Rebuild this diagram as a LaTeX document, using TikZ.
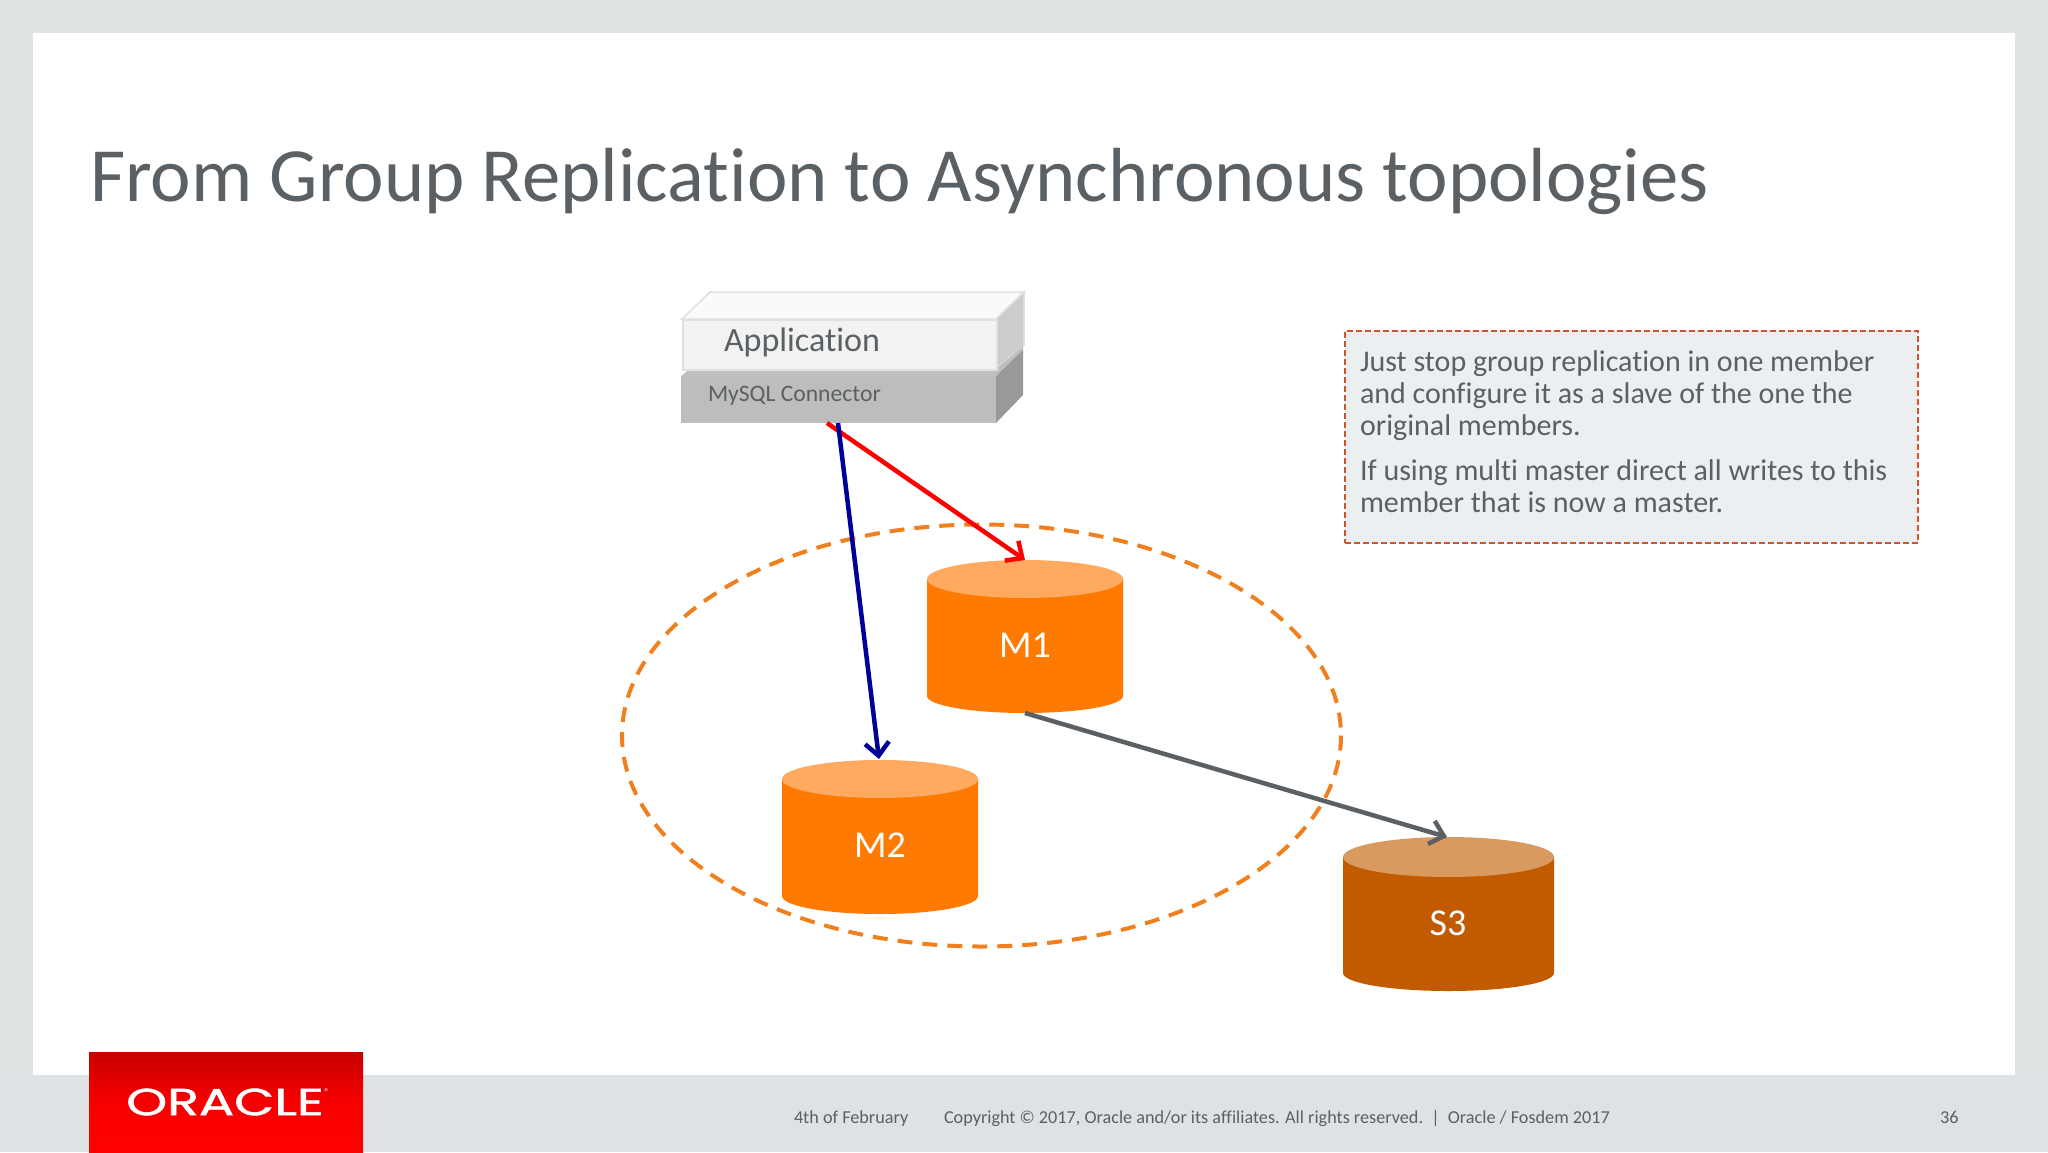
\documentclass[tikz,border=0pt]{standalone}
\usepackage{fontspec}
\setmainfont[Ligatures=NoCommon]{Carlito}
\newfontfamily\logofont[FakeBold=1.2]{Poppins}
\usetikzlibrary{arrows.meta}
\definecolor{slidebg}{HTML}{DFE4E3}
\definecolor{footbg}{HTML}{DEE2E5}
\definecolor{txt}{HTML}{5A6063}
\definecolor{dashor}{HTML}{F0801E}
\definecolor{orbody}{HTML}{FF7A00}
\definecolor{ortop}{HTML}{FFAA5F}
\definecolor{srbody}{HTML}{C25B00}
\definecolor{srtop}{HTML}{D99A60}
\definecolor{notefill}{HTML}{ECEFF1}
\definecolor{noteedge}{HTML}{D0562A}
\newcommand{\fsz}[1]{\fontsize{#1}{#1}\selectfont}
% left, right, mid y of top, side end y, bottom y, body colour
\newcommand{\cylbody}[6]{%
  \fill[#6] (#1,#3) -- (#1,#4) arc[start angle=180,end angle=0,x radius={(#2-#1)/2},y radius={#5-#4}] -- (#2,#3) -- cycle;
}
\tikzset{
  lbl/.style={text=txt,inner sep=0pt,outer sep=0pt},
  cylname/.style={text=white,inner sep=0pt,font=\fsz{38}},
  flow/.style={line width=4.5pt,-{Straight Barb[length=13pt,width=24pt,line width=4.5pt]},line join=miter},
  foot/.style={lbl,anchor=base west,font=\fsz{18.2}},
  noteline/.style={lbl,anchor=north west,align=left,font=\fsz{30}}
}
\begin{document}
\begin{tikzpicture}[x=1pt,y=-1pt]
\useasboundingbox (0,0) rectangle (2048,1152);
% slide
\fill[slidebg] (0,0) rectangle (2048,1152);
\fill[white] (33,33) rectangle (2015,1075);
\fill[footbg] (0,1075) rectangle (2048,1152);
\node[lbl,anchor=base west,font=\fsz{76.7}] (title) at (90,201) {From Group Replication to Asynchronous topologies};
% logo
\shade[top color=red!78!black,bottom color=red,middle color=red!97!black] (89,1052) rectangle (363,1152);
\node[inner sep=0pt,text=white,font=\logofont\fsz{36}] (logo) at (225,1102) {\scalebox{1.45}[1.05]{ORACLE}};
\node[inner sep=0pt,text=white,font=\fsz{10}] (logoreg) at (327,1092) {®};
% application stack
\fill[draw=black!12,fill=black!2,line width=1.5pt] (682,319) -- (710,292) -- (1024,292) -- (996,319) -- cycle;
\fill[draw=black!12,fill=black!20,line width=1.5pt] (996,319) -- (1024,292) -- (1024,345) -- (996,369) -- cycle;
\fill[black!25] (681,376) -- (690,369) -- (996,369) -- (1023,346) -- (1023,350) -- (996,376) -- cycle;
\fill[black!26] (681,376) rectangle (996,423);
\fill[black!40] (996,376) -- (1023,350) -- (1023,395) -- (996,423) -- cycle;
\node[draw=black!12,fill=black!5,line width=1.5pt,anchor=north west,minimum width=314pt,minimum height=50pt,inner sep=0pt] (app) at (682,319) {};
\node[lbl,font=\fsz{34},anchor=base west] (apptext) at (724,351) {Application};
\node[lbl,font=\fsz{23.6},anchor=base west] (conntext) at (708,401) {MySQL Connector};
\coordinate (connb) at (838,423);
\coordinate (connbr) at (827,423);
% group ellipse
\draw[dashor,line width=4pt,dash pattern=on 15pt off 10pt] (981.5,735.5) ellipse [x radius=359.5,y radius=211];
% cylinders
\cylbody{927}{1123}{579}{696}{713}{orbody}
\fill[ortop] (1025,579) ellipse [x radius=98,y radius=19];
\cylbody{782}{978}{779}{896}{914}{orbody}
\fill[ortop] (880,779) ellipse [x radius=98,y radius=19];
\cylbody{1343}{1554}{857}{973}{991}{srbody}
\fill[srtop] (1448.5,857) ellipse [x radius=105.5,y radius=20];
\node[cylname] (m1) at (1025,645) {M1};
\node[cylname] (m2) at (880,845) {M2};
\node[cylname] (s3) at (1448,923) {S3};
\coordinate (m1top) at (1025,560);
\coordinate (m1bot) at (1025,713);
\coordinate (m2top) at (879,759);
\coordinate (s3top) at (1447,837);
% connectors
\draw[flow,red] (connbr) -- (m1top);
\draw[flow,blue!60!black] (connb) -- (m2top);
\draw[flow,txt] (m1bot) -- (s3top);
% note
\node[draw=noteedge,fill=notefill,line width=2pt,dash pattern=on 6pt off 3pt,anchor=north west,minimum width=573pt,minimum height=212pt,inner sep=0pt] (note) at (1344,330) {};
\node[noteline] (noteA) at (1360,351) {Just stop group replication in one member\\[2pt]and configure it as a slave of the one the\\[2pt]original members.};
\node[noteline] (noteB) at (1360,460) {If using multi master direct all writes to this\\[2pt]member that is now a master.};
% footer
\node[foot] (f1) at (794,1123) {4th of February};
\node[foot] (f2) at (944,1123) {Copyright © 2017, Oracle and/or its affiliates. All rights reserved.\ \ |\ \ Oracle / Fosdem 2017};
\node[foot] (f3) at (1940,1123) {36};
\end{tikzpicture}
\end{document}
